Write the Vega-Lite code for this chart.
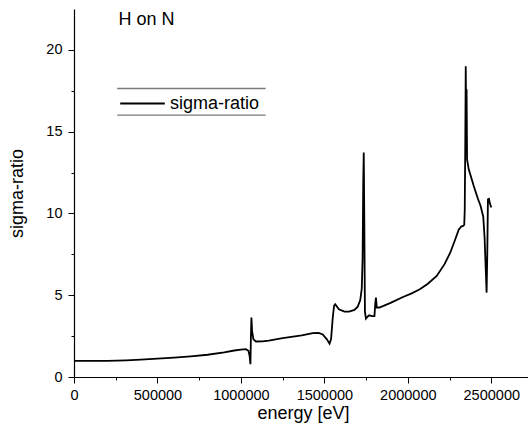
{
  "$schema": "https://vega.github.io/schema/vega-lite/v6.json",
  "width": 454,
  "height": 368,
  "autosize": "none",
  "padding": {"left": 74, "top": 9, "right": 0, "bottom": 62},
  "background": "white",
  "config": {
    "view": {"stroke": null},
    "font": "Liberation Sans",
    "axis": {"domainColor": "black", "tickColor": "black", "labelColor": "black", "titleColor": "black", "labelFont": "Liberation Sans", "titleFont": "Liberation Sans", "grid": false, "titleFontWeight": "normal", "domainWidth": 1.2, "tickWidth": 1}
  },
  "datasets": {
    "curve": [
      {"energy": 0, "ratio": 0.98, "series": "sigma-ratio"},
      {"energy": 100000, "ratio": 0.98, "series": "sigma-ratio"},
      {"energy": 200000, "ratio": 0.99, "series": "sigma-ratio"},
      {"energy": 313000, "ratio": 1.02, "series": "sigma-ratio"},
      {"energy": 400000, "ratio": 1.06, "series": "sigma-ratio"},
      {"energy": 500000, "ratio": 1.12, "series": "sigma-ratio"},
      {"energy": 600000, "ratio": 1.18, "series": "sigma-ratio"},
      {"energy": 700000, "ratio": 1.26, "series": "sigma-ratio"},
      {"energy": 800000, "ratio": 1.36, "series": "sigma-ratio"},
      {"energy": 900000, "ratio": 1.5, "series": "sigma-ratio"},
      {"energy": 960000, "ratio": 1.62, "series": "sigma-ratio"},
      {"energy": 1000000, "ratio": 1.67, "series": "sigma-ratio"},
      {"energy": 1030000, "ratio": 1.7, "series": "sigma-ratio"},
      {"energy": 1045000, "ratio": 1.6, "series": "sigma-ratio"},
      {"energy": 1052000, "ratio": 1.3, "series": "sigma-ratio"},
      {"energy": 1057000, "ratio": 0.78, "series": "sigma-ratio"},
      {"energy": 1060000, "ratio": 2.5, "series": "sigma-ratio"},
      {"energy": 1063000, "ratio": 3.63, "series": "sigma-ratio"},
      {"energy": 1067000, "ratio": 2.8, "series": "sigma-ratio"},
      {"energy": 1075000, "ratio": 2.3, "series": "sigma-ratio"},
      {"energy": 1090000, "ratio": 2.17, "series": "sigma-ratio"},
      {"energy": 1130000, "ratio": 2.18, "series": "sigma-ratio"},
      {"energy": 1167000, "ratio": 2.22, "series": "sigma-ratio"},
      {"energy": 1250000, "ratio": 2.38, "series": "sigma-ratio"},
      {"energy": 1365000, "ratio": 2.55, "series": "sigma-ratio"},
      {"energy": 1430000, "ratio": 2.68, "series": "sigma-ratio"},
      {"energy": 1466000, "ratio": 2.7, "series": "sigma-ratio"},
      {"energy": 1490000, "ratio": 2.6, "series": "sigma-ratio"},
      {"energy": 1515000, "ratio": 2.3, "series": "sigma-ratio"},
      {"energy": 1531000, "ratio": 2.04, "series": "sigma-ratio"},
      {"energy": 1540000, "ratio": 2.3, "series": "sigma-ratio"},
      {"energy": 1550000, "ratio": 3.6, "series": "sigma-ratio"},
      {"energy": 1558000, "ratio": 4.35, "series": "sigma-ratio"},
      {"energy": 1565000, "ratio": 4.45, "series": "sigma-ratio"},
      {"energy": 1587000, "ratio": 4.14, "series": "sigma-ratio"},
      {"energy": 1620000, "ratio": 4.0, "series": "sigma-ratio"},
      {"energy": 1648000, "ratio": 4.0, "series": "sigma-ratio"},
      {"energy": 1680000, "ratio": 4.1, "series": "sigma-ratio"},
      {"energy": 1700000, "ratio": 4.3, "series": "sigma-ratio"},
      {"energy": 1715000, "ratio": 4.7, "series": "sigma-ratio"},
      {"energy": 1724000, "ratio": 5.4, "series": "sigma-ratio"},
      {"energy": 1729000, "ratio": 7.2, "series": "sigma-ratio"},
      {"energy": 1733000, "ratio": 12.0, "series": "sigma-ratio"},
      {"energy": 1736000, "ratio": 13.72, "series": "sigma-ratio"},
      {"energy": 1739000, "ratio": 10.0, "series": "sigma-ratio"},
      {"energy": 1743000, "ratio": 4.0, "series": "sigma-ratio"},
      {"energy": 1749000, "ratio": 3.57, "series": "sigma-ratio"},
      {"energy": 1760000, "ratio": 3.7, "series": "sigma-ratio"},
      {"energy": 1769000, "ratio": 3.77, "series": "sigma-ratio"},
      {"energy": 1785000, "ratio": 3.72, "series": "sigma-ratio"},
      {"energy": 1800000, "ratio": 3.72, "series": "sigma-ratio"},
      {"energy": 1805000, "ratio": 4.5, "series": "sigma-ratio"},
      {"energy": 1809000, "ratio": 4.86, "series": "sigma-ratio"},
      {"energy": 1814000, "ratio": 4.24, "series": "sigma-ratio"},
      {"energy": 1830000, "ratio": 4.25, "series": "sigma-ratio"},
      {"energy": 1900000, "ratio": 4.55, "series": "sigma-ratio"},
      {"energy": 1971000, "ratio": 4.89, "series": "sigma-ratio"},
      {"energy": 2020000, "ratio": 5.1, "series": "sigma-ratio"},
      {"energy": 2072000, "ratio": 5.36, "series": "sigma-ratio"},
      {"energy": 2120000, "ratio": 5.7, "series": "sigma-ratio"},
      {"energy": 2173000, "ratio": 6.18, "series": "sigma-ratio"},
      {"energy": 2220000, "ratio": 6.9, "series": "sigma-ratio"},
      {"energy": 2254000, "ratio": 7.6, "series": "sigma-ratio"},
      {"energy": 2280000, "ratio": 8.3, "series": "sigma-ratio"},
      {"energy": 2305000, "ratio": 9.0, "series": "sigma-ratio"},
      {"energy": 2320000, "ratio": 9.2, "series": "sigma-ratio"},
      {"energy": 2331000, "ratio": 9.24, "series": "sigma-ratio"},
      {"energy": 2338000, "ratio": 9.3, "series": "sigma-ratio"},
      {"energy": 2341000, "ratio": 10.2, "series": "sigma-ratio"},
      {"energy": 2344000, "ratio": 14.0, "series": "sigma-ratio"},
      {"energy": 2347000, "ratio": 19.0, "series": "sigma-ratio"},
      {"energy": 2350000, "ratio": 15.0, "series": "sigma-ratio"},
      {"energy": 2352000, "ratio": 17.6, "series": "sigma-ratio"},
      {"energy": 2355000, "ratio": 13.3, "series": "sigma-ratio"},
      {"energy": 2365000, "ratio": 12.7, "series": "sigma-ratio"},
      {"energy": 2395000, "ratio": 11.68, "series": "sigma-ratio"},
      {"energy": 2420000, "ratio": 10.9, "series": "sigma-ratio"},
      {"energy": 2436000, "ratio": 10.46, "series": "sigma-ratio"},
      {"energy": 2452000, "ratio": 9.8, "series": "sigma-ratio"},
      {"energy": 2460000, "ratio": 8.5, "series": "sigma-ratio"},
      {"energy": 2466000, "ratio": 6.8, "series": "sigma-ratio"},
      {"energy": 2472000, "ratio": 5.16, "series": "sigma-ratio"},
      {"energy": 2476000, "ratio": 7.5, "series": "sigma-ratio"},
      {"energy": 2480000, "ratio": 10.87, "series": "sigma-ratio"},
      {"energy": 2486000, "ratio": 10.9, "series": "sigma-ratio"},
      {"energy": 2492000, "ratio": 10.6, "series": "sigma-ratio"},
      {"energy": 2500000, "ratio": 10.36, "series": "sigma-ratio"}
    ],
    "legendbox": [
      {"x": 258700, "x2": 1148000, "y": 17.64},
      {"x": 258700, "x2": 1148000, "y": 16.01}
    ],
    "label": [
      {"x": 266800, "y": 21.85, "text": "H on N"}
    ]
  },
  "layer": [
    {
      "data": {"name": "legendbox"},
      "mark": {"type": "rule", "color": "#7a7a7a", "strokeWidth": 1.3},
      "encoding": {
        "x": {"field": "x", "type": "quantitative", "scale": {"domain": [0, 2720000]}},
        "x2": {"field": "x2"},
        "y": {"field": "y", "type": "quantitative"}
      }
    },
    {
      "data": {"name": "label"},
      "mark": {"type": "text", "align": "left", "baseline": "middle", "fontSize": 18, "font": "Liberation Sans", "color": "black"},
      "encoding": {
        "x": {"field": "x", "type": "quantitative"},
        "y": {"field": "y", "type": "quantitative"},
        "text": {"field": "text"}
      }
    },
    {
      "data": {"name": "curve"},
      "mark": {"type": "line", "strokeWidth": 1.8, "interpolate": "linear"},
      "encoding": {
        "x": {
          "field": "energy", "type": "quantitative",
          "scale": {"domain": [0, 2720000], "nice": false, "zero": false},
          "axis": {
            "title": "energy [eV]", "titleFontSize": 18, "titleX": 229, "titleY": 36, "titleBaseline": "middle",
            "values": [0, 250000, 500000, 750000, 1000000, 1250000, 1500000, 1750000, 2000000, 2250000, 2500000],
            "format": "d",
            "labelExpr": "datum.value % 500000 === 0 ? datum.label : ''",
            "labelFontSize": 14.5, "labelPadding": 5, "labelFlush": false, "labelOverlap": false,
            "tickSize": {"condition": {"test": "datum.value % 500000 === 0", "value": 6}, "value": 3}
          }
        },
        "y": {
          "field": "ratio", "type": "quantitative",
          "scale": {"domain": [0, 22.5], "nice": false, "zero": false},
          "axis": {
            "title": "sigma-ratio", "titleFontSize": 18, "titleX": -57, "titleY": 184, "titleBaseline": "middle", "titleAngle": -90,
            "values": [0, 2.5, 5, 7.5, 10, 12.5, 15, 17.5, 20],
            "labelExpr": "datum.value % 5 === 0 ? datum.label : ''",
            "labelFontSize": 14.5, "labelPadding": 6, "labelOverlap": false,
            "tickSize": {"condition": {"test": "datum.value % 5 === 0", "value": 6}, "value": 3}
          }
        },
        "color": {
          "field": "series", "type": "nominal",
          "scale": {"range": ["black"]},
          "legend": {
            "title": null, "orient": "none", "legendX": 45, "legendY": 71,
            "symbolType": "stroke", "symbolSize": 1990, "symbolStrokeWidth": 1.8, "symbolStrokeColor": "black",
            "labelFontSize": 18, "labelFont": "Liberation Sans", "labelColor": "black", "labelOffset": 4
          }
        }
      }
    }
  ]
}
